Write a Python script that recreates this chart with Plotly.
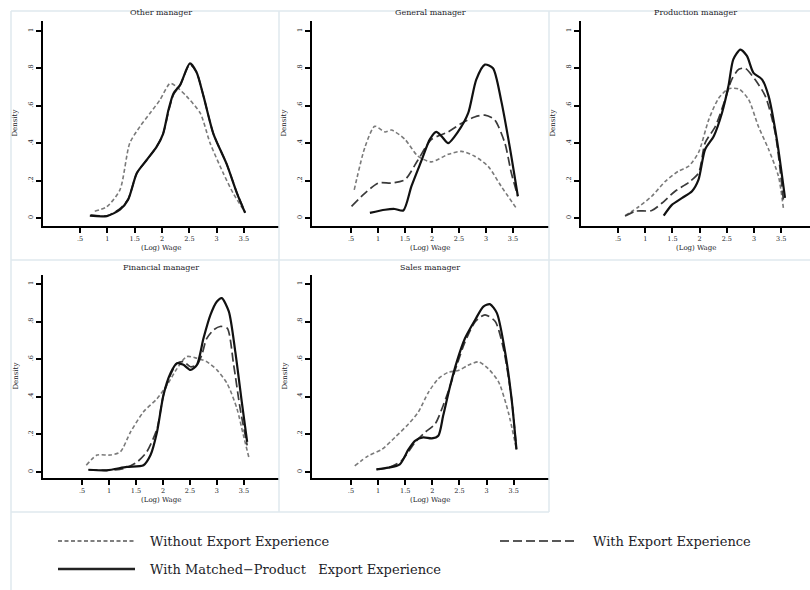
import plotly.graph_objects as go

W, H = 810, 590

# ---- panel titles and tick labels ----
panel_titles = ["Other manager", "General manager", "Production manager",
                "Financial manager", "Sales manager"]
x_tickvals = [0.5, 1, 1.5, 2, 2.5, 3, 3.5]
x_ticktext = [".5", "1", "1.5", "2", "2.5", "3", "3.5"]
y_tickvals = [0, 0.2, 0.4, 0.6, 0.8, 1]
y_ticktext = ["0", ".2", ".4", ".6", ".8", "1"]
series_names = ["Without Export Experience", "With Export Experience",
                "With Matched\u2212Product   Export Experience"]

# ---- Other manager ----
other_without_x = [0.77, 0.99, 1.23, 1.41, 1.60, 1.78, 1.96, 2.15, 2.27, 2.45, 2.70, 2.88, 3.12, 3.30, 3.49]
other_without_y = [0.036, 0.06, 0.15, 0.40, 0.49, 0.56, 0.63, 0.72, 0.70, 0.65, 0.56, 0.40, 0.24, 0.133, 0.044]
other_with_x = [0.70, 1.00, 1.23, 1.38, 1.54, 1.72, 1.90, 2.02, 2.12, 2.21, 2.33, 2.51, 2.63, 2.76, 2.94, 3.18, 3.37, 3.52]
other_with_y = [0.015, 0.012, 0.05, 0.10, 0.24, 0.31, 0.38, 0.45, 0.57, 0.66, 0.71, 0.82, 0.78, 0.65, 0.45, 0.29, 0.135, 0.03]
other_matched_x = [0.68, 0.99, 1.23, 1.38, 1.54, 1.72, 1.90, 2.02, 2.12, 2.21, 2.33, 2.51, 2.63, 2.76, 2.94, 3.18, 3.37, 3.52]
other_matched_y = [0.012, 0.01, 0.044, 0.098, 0.24, 0.31, 0.38, 0.45, 0.58, 0.666, 0.71, 0.826, 0.78, 0.65, 0.45, 0.29, 0.133, 0.027]

# ---- General manager ----
general_without_x = [0.56, 0.76, 0.94, 1.13, 1.25, 1.50, 1.74, 1.99, 2.30, 2.55, 2.79, 3.04, 3.28, 3.56]
general_without_y = [0.15, 0.38, 0.49, 0.46, 0.47, 0.42, 0.33, 0.30, 0.34, 0.356, 0.33, 0.276, 0.17, 0.053]
general_with_x = [0.51, 0.76, 1.01, 1.25, 1.50, 1.74, 1.99, 2.30, 2.55, 2.79, 2.98, 3.16, 3.35, 3.47, 3.59]
general_with_y = [0.062, 0.133, 0.187, 0.187, 0.205, 0.31, 0.42, 0.46, 0.507, 0.54, 0.55, 0.525, 0.40, 0.24, 0.116]
general_matched_x = [0.85, 1.13, 1.31, 1.47, 1.62, 1.81, 1.96, 2.08, 2.18, 2.30, 2.48, 2.67, 2.82, 2.98, 3.13, 3.28, 3.44, 3.59]
general_matched_y = [0.027, 0.044, 0.048, 0.04, 0.17, 0.31, 0.42, 0.46, 0.436, 0.40, 0.46, 0.56, 0.74, 0.82, 0.80, 0.63, 0.38, 0.116]

# ---- Production manager ----
production_without_x = [0.63, 0.88, 1.12, 1.37, 1.61, 1.80, 1.98, 2.17, 2.35, 2.53, 2.72, 2.90, 3.08, 3.27, 3.45, 3.54]
production_without_y = [0.012, 0.06, 0.116, 0.196, 0.25, 0.277, 0.35, 0.527, 0.64, 0.69, 0.69, 0.634, 0.49, 0.366, 0.223, 0.054]
production_with_x = [0.63, 0.82, 1.12, 1.31, 1.55, 1.80, 1.98, 2.10, 2.29, 2.47, 2.59, 2.72, 2.84, 3.02, 3.21, 3.39, 3.54]
production_with_y = [0.01, 0.036, 0.04, 0.08, 0.143, 0.19, 0.24, 0.40, 0.49, 0.634, 0.74, 0.795, 0.80, 0.74, 0.65, 0.455, 0.098]
production_matched_x = [1.34, 1.49, 1.68, 1.86, 1.98, 2.10, 2.26, 2.41, 2.53, 2.62, 2.75, 2.87, 2.99, 3.15, 3.27, 3.42, 3.57]
production_matched_y = [0.012, 0.07, 0.107, 0.143, 0.205, 0.366, 0.437, 0.56, 0.705, 0.848, 0.90, 0.866, 0.776, 0.74, 0.65, 0.42, 0.107]

# ---- Financial manager ----
financial_without_x = [0.58, 0.78, 1.02, 1.21, 1.40, 1.64, 1.89, 2.07, 2.26, 2.44, 2.63, 2.81, 3.00, 3.19, 3.37, 3.49, 3.59]
financial_without_y = [0.036, 0.09, 0.09, 0.107, 0.213, 0.32, 0.39, 0.46, 0.55, 0.614, 0.605, 0.587, 0.543, 0.47, 0.338, 0.196, 0.08]
financial_with_x = [0.62, 0.96, 1.27, 1.52, 1.70, 1.89, 2.01, 2.14, 2.26, 2.38, 2.51, 2.63, 2.72, 2.81, 2.94, 3.06, 3.19, 3.31, 3.43, 3.56]
financial_with_y = [0.012, 0.009, 0.018, 0.053, 0.107, 0.23, 0.41, 0.516, 0.578, 0.587, 0.56, 0.57, 0.623, 0.71, 0.756, 0.774, 0.765, 0.57, 0.338, 0.142]
financial_matched_x = [0.62, 0.96, 1.33, 1.64, 1.77, 1.89, 2.01, 2.14, 2.26, 2.38, 2.51, 2.63, 2.75, 2.88, 3.00, 3.09, 3.22, 3.34, 3.46, 3.56]
financial_matched_y = [0.012, 0.009, 0.027, 0.036, 0.09, 0.213, 0.41, 0.525, 0.578, 0.57, 0.543, 0.57, 0.71, 0.836, 0.907, 0.925, 0.854, 0.64, 0.374, 0.16]

# ---- Sales manager ----
sales_without_x = [0.57, 0.82, 1.07, 1.31, 1.56, 1.74, 1.93, 2.11, 2.29, 2.48, 2.66, 2.85, 3.03, 3.22, 3.40, 3.55]
sales_without_y = [0.032, 0.086, 0.12, 0.184, 0.255, 0.318, 0.425, 0.496, 0.53, 0.54, 0.568, 0.586, 0.55, 0.48, 0.318, 0.12]
sales_with_x = [0.97, 1.19, 1.43, 1.68, 1.86, 2.05, 2.20, 2.33, 2.45, 2.60, 2.79, 2.97, 3.16, 3.31, 3.46, 3.55]
sales_with_y = [0.014, 0.023, 0.059, 0.157, 0.21, 0.255, 0.354, 0.46, 0.568, 0.69, 0.80, 0.836, 0.80, 0.657, 0.39, 0.12]
sales_matched_x = [0.97, 1.19, 1.40, 1.56, 1.68, 1.83, 1.99, 2.11, 2.20, 2.33, 2.45, 2.60, 2.79, 2.94, 3.06, 3.19, 3.34, 3.46, 3.55]
sales_matched_y = [0.014, 0.023, 0.041, 0.12, 0.166, 0.184, 0.179, 0.193, 0.30, 0.46, 0.586, 0.71, 0.81, 0.88, 0.893, 0.845, 0.64, 0.39, 0.12]

panels = [
    [(other_without_x, other_without_y), (other_with_x, other_with_y), (other_matched_x, other_matched_y)],
    [(general_without_x, general_without_y), (general_with_x, general_with_y), (general_matched_x, general_matched_y)],
    [(production_without_x, production_without_y), (production_with_x, production_with_y), (production_matched_x, production_matched_y)],
    [(financial_without_x, financial_without_y), (financial_with_x, financial_with_y), (financial_matched_x, financial_matched_y)],
    [(sales_without_x, sales_without_y), (sales_with_x, sales_with_y), (sales_matched_x, sales_matched_y)],
]

# line styles for the three groups
styles = [
    dict(color="#7a7a7a", width=1.6, dash="4px,2.5px"),
    dict(color="#3a3a3a", width=1.7, dash="9px,4px"),
    dict(color="#111111", width=2.2, dash="solid"),
]

# plot-region boxes in pixels: (left, right, top, bottom)
boxes = [(43, 279, 21, 226), (312, 549, 21, 226), (581, 810, 21, 226),
         (43, 279, 275, 478), (312, 549, 275, 478)]
xranges = [[-0.177, 4.14], [-0.222, 4.167], [-0.181, 4.03], [-0.222, 4.15], [-0.218, 4.15]]
yranges = [[-0.043, 1.053]] * 3 + [[-0.032, 1.048]] * 2

FONT = "DejaVu Serif"
TXT = "#1c1c28"


def px(x):
    return x / W


def py(y):
    return 1 - y / H


fig = go.Figure()
layout = {}
annotations = []
for i, (series, box) in enumerate(zip(panels, boxes)):
    n = i + 1
    xa = "x" if n == 1 else f"x{n}"
    ya = "y" if n == 1 else f"y{n}"
    for (xs, ys), st, name in zip(series, styles, series_names):
        fig.add_trace(go.Scatter(
            x=xs, y=ys, mode="lines", name=name, showlegend=False,
            line=dict(color=st["color"], width=st["width"], dash=st["dash"],
                      shape="spline", smoothing=0.7),
            xaxis=xa, yaxis=ya, hoverinfo="skip"))
    l, r, t, b = box
    layout["xaxis" if n == 1 else f"xaxis{n}"] = dict(
        domain=[px(l), px(r)], anchor=ya, range=xranges[i],
        showline=True, linecolor="black", linewidth=2, showgrid=False, zeroline=False,
        ticks="outside", ticklen=5, tickwidth=1.5, tickcolor="black",
        tickvals=x_tickvals, ticktext=x_ticktext,
        tickfont=dict(family=FONT, size=6.5, color=TXT))
    layout["yaxis" if n == 1 else f"yaxis{n}"] = dict(
        domain=[py(b), py(t)], anchor=xa, range=yranges[i],
        showline=True, linecolor="black", linewidth=2, showgrid=False, zeroline=False,
        ticks="outside", ticklen=5, tickwidth=1.5, tickcolor="black",
        tickvals=y_tickvals, ticktext=y_ticktext, tickangle=-90,
        tickfont=dict(family=FONT, size=6.5, color=TXT))
    cx = px((l + r) / 2)
    annotations.append(dict(text=panel_titles[i], x=cx, y=py(t - 8), xref="paper", yref="paper",
                            showarrow=False, font=dict(family=FONT, size=8, color=TXT),
                            xanchor="center", yanchor="middle"))
    annotations.append(dict(text="(Log) Wage", x=cx, y=py(b + 22), xref="paper", yref="paper",
                            showarrow=False, font=dict(family=FONT, size=7, color=TXT),
                            xanchor="center", yanchor="middle"))
    annotations.append(dict(text="Density", x=px(l - 28), y=py((t + b) / 2), xref="paper", yref="paper",
                            showarrow=False, textangle=-90, font=dict(family=FONT, size=7, color=TXT),
                            xanchor="center", yanchor="middle"))

# cell borders of the graph grid
border = "#dfe8ee"
shapes = []
for (x0, y0, x1, y1) in [(11, 11, 810, 11), (11, 260, 810, 260), (11, 512, 549, 512),
                         (11, 11, 11, 590), (279, 11, 279, 512), (549, 11, 549, 512)]:
    shapes.append(dict(type="line", xref="paper", yref="paper",
                       x0=px(x0), y0=py(y0), x1=px(x1), y1=py(y1),
                       line=dict(color=border, width=1.5)))

# legend: sample line + label
legend_items = [(58, 135, 541, 0), (500, 578, 541, 1), (58, 135, 569, 2)]
for (x0, x1, yy, k) in legend_items:
    st = styles[k]
    shapes.append(dict(type="line", xref="paper", yref="paper",
                       x0=px(x0), y0=py(yy), x1=px(x1), y1=py(yy),
                       line=dict(color="#222222" if k else "#555555",
                                 width=st["width"] + (0.4 if k == 2 else 0), dash=st["dash"])))
    annotations.append(dict(text=series_names[k], x=px(x1 + 13), y=py(yy), xref="paper", yref="paper",
                            showarrow=False, font=dict(family=FONT, size=13, color=TXT),
                            xanchor="left", yanchor="middle"))

fig.update_layout(
    **layout,
    width=W, height=H, margin=dict(l=0, r=0, t=0, b=0),
    paper_bgcolor="white", plot_bgcolor="white",
    annotations=annotations, shapes=shapes, showlegend=False)

fig.write_html("out.html")
